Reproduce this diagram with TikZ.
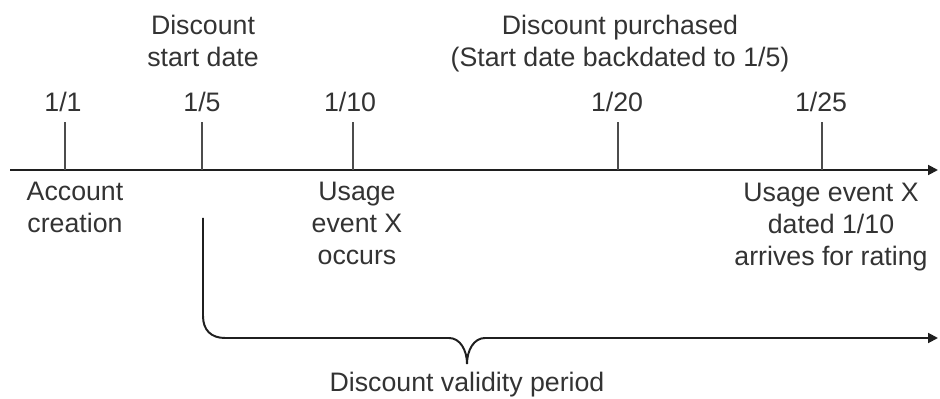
\documentclass[tikz,border=0pt]{standalone}
\usepackage{fontspec}
\setmainfont{Liberation Sans}
\usetikzlibrary{arrows.meta}

\tikzset{
  lbl/.style={inner sep=0pt, align=center, anchor=north, text=black!80,
    font=\fontsize{19}{22.8}\selectfont},
  axis/.style={line width=1.4pt, color=black!88},
  tick/.style={line width=1.3pt, color=black!70}
}

\begin{document}
\begin{tikzpicture}[x=0.025cm,y=-0.025cm]
\useasboundingbox (0,0) rectangle (940,399);

\foreach \i/\x in {0/65,1/202,2/353,3/618,4/822}
{
\coordinate (t\i) at (\x,122) ;
\coordinate (b\i) at (\x,170) ;
}
\coordinate (start) at (10,170);
\coordinate (end) at (938,170);

\coordinate (p0) at (203,218);
\coordinate (c1) at (203,316);
\coordinate (c2) at (225,338);
\coordinate (ml) at (449,338);
\coordinate (m) at (467,364);
\coordinate (mr) at (485,338);
\coordinate (p2) at (938,338);

\draw[axis,-{Triangle[length=7pt,width=7pt]}] (start)--(end);
\foreach \i in {0,...,4}
{
\draw[tick] (b\i)--(t\i);
}
\draw[axis,-{Triangle[length=7pt,width=7pt]}] (p0)--(c1)
  .. controls (203,330) and (211,338) .. (c2) -- (ml)
  .. controls (460,338) and (467,350) .. (m)
  .. controls (467,350) and (474,338) .. (mr) -- (p2);

\node[lbl] (d0) at (63,92) {1/1};
\node[lbl] (d1) at (202,92) {1/5};
\node[lbl] (d2) at (350,92) {1/10};
\node[lbl] (d3) at (617,92) {1/20};
\node[lbl] (d4) at (821,92) {1/25};

\node[lbl] (startdate) at (203,15) {Discount\\start date};
\node[lbl] (purchase) at (620,15) {Discount purchased\\(Start date backdated to 1/5)};

\node[lbl] (account) at (75,182) {Account\\creation};
\node[lbl] (usage) at (357,182) {Usage\\event X\\occurs};
\node[lbl] (rating) at (831,183) {Usage event X\\dated 1/10\\arrives for rating};

\node[lbl] (validity) at (467,372) {Discount validity period};
\end{tikzpicture}
\end{document}
